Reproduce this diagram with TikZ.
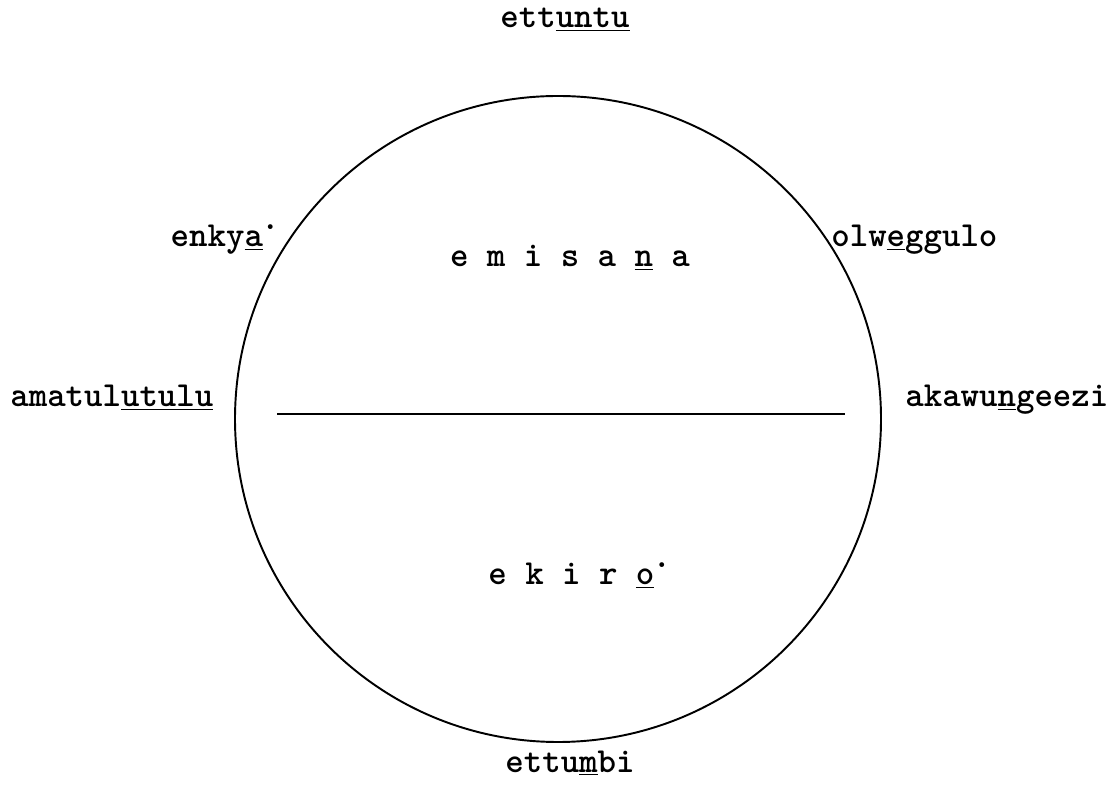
\documentclass[tikz,border=0pt]{standalone}
\usepackage{fontspec}
\usepackage{tikz}
\usetikzlibrary{positioning}
\newcommand{\tonedot}{\kern-.05em\raisebox{.5em}{.}}
\tikzset{
  word/.style={font=\ttfamily\bfseries\fontsize{20}{24}\selectfont,inner sep=0pt},
  rim/.style={draw,line width=1.1pt},
  split/.style={draw,line width=1.1pt},
}
\begin{document}
\begin{tikzpicture}
  \useasboundingbox (0,0) rectangle (22.38,15.68);
  % the circle and the line across it
  \node[rim,circle,minimum size=12.92cm,inner sep=0pt] (sky) at (11.16,7.30) {};
  \coordinate (w) at (5.54,7.40);
  \coordinate (e) at (16.90,7.40);
  \draw[split] (w) -- (e);
  % quarters of the sky
  \node[word,anchor=base] (top) at (11.30,15.12) {ett\underline{untu}};
  \node[word,anchor=base] (bot) at (11.40,0.24) {ettu\underline{m}bi};
  \node[word,anchor=base west] (west) at (0.20,7.54) {amatul\underline{utulu}};
  \node[word,anchor=base west] (east) at (18.10,7.54) {akawu\underline{n}geezi};
  \node[word,anchor=base east] (nw) at (5.60,10.74) {enky\underline{a}\tonedot};
  \node[word,anchor=base west] (ne) at (16.62,10.74) {olw\underline{e}ggulo};
  % day and night
  \node[word,anchor=base] (day) at (11.40,10.34) {e m i s a \underline{n} a};
  \node[word,anchor=base west] (night) at (9.76,3.98) {e k i r \underline{o}\tonedot};
\end{tikzpicture}
\end{document}
